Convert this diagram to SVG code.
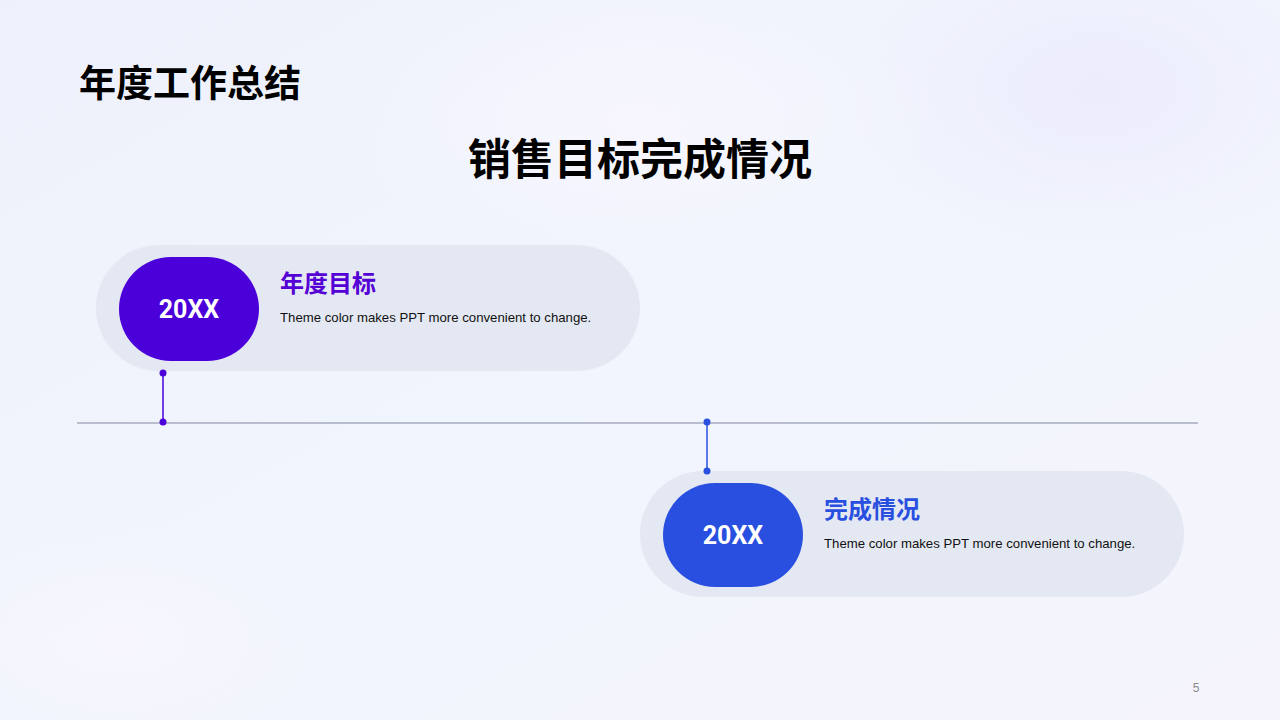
<svg xmlns="http://www.w3.org/2000/svg" width="1280" height="720" viewBox="0 0 1280 720">
  <defs>
    <linearGradient id="bg" x1="0" y1="0" x2="1" y2="1">
      <stop offset="0" stop-color="#EEF1FB"/>
      <stop offset="0.5" stop-color="#F1F5FD"/>
      <stop offset="1" stop-color="#F5F4FC"/>
    </linearGradient>
    <radialGradient id="glow1" cx="0.5" cy="0.5" r="0.5">
      <stop offset="0" stop-color="#F7F6FE" stop-opacity="1"/>
      <stop offset="1" stop-color="#F7F6FE" stop-opacity="0"/>
    </radialGradient>
    <radialGradient id="glow2" cx="0.5" cy="0.5" r="0.5">
      <stop offset="0" stop-color="#ECEBFC" stop-opacity="0.9"/>
      <stop offset="1" stop-color="#ECEBFC" stop-opacity="0"/>
    </radialGradient>
    <style>
      .cjk { font-family: "Noto Sans CJK SC", "Liberation Sans", sans-serif; font-weight: 700; }
      .year { font-family: Roboto, "Liberation Sans", sans-serif; font-weight: 700; font-size: 25px; fill: #FFFFFF; text-anchor: middle; }
      .desc { font-family: "Liberation Sans", Arial, sans-serif; font-size: 13.2px; fill: #111111; }
      .card { fill: #E3E7F1; opacity: 0.95; }
      .axis { stroke: #B9BECF; stroke-width: 2; fill: none; }
    </style>
  </defs>

  <rect width="1280" height="720" fill="url(#bg)"/>
  <ellipse cx="640" cy="120" rx="300" ry="160" fill="url(#glow1)"/>
  <ellipse cx="1100" cy="90" rx="260" ry="160" fill="url(#glow2)"/>
  <ellipse cx="120" cy="640" rx="220" ry="120" fill="url(#glow1)"/>

  <text class="cjk" x="79" y="97" font-size="37" fill="#000000">年度工作总结</text>
  <text class="cjk" x="640" y="175" font-size="43" fill="#000000" text-anchor="middle">销售目标完成情况</text>

  <g id="node1">
    <rect class="card" x="96" y="245" width="544" height="126" rx="63"/>
    <rect x="119" y="257" width="140" height="104" rx="52" fill="#4B00D9"/>
    <text class="year" x="189" y="318">20XX</text>
    <text class="cjk" x="280" y="292" font-size="24" fill="#5500D5">年度目标</text>
    <text class="desc" x="280" y="322">Theme color makes PPT more convenient to change.</text>
  </g>

  <g id="node2">
    <rect class="card" x="640" y="471" width="544" height="126" rx="63"/>
    <rect x="663" y="483" width="140" height="104" rx="52" fill="#284FE0"/>
    <text class="year" x="733" y="544">20XX</text>
    <text class="cjk" x="824" y="518" font-size="24" fill="#284FE0">完成情况</text>
    <text class="desc" x="824" y="548">Theme color makes PPT more convenient to change.</text>
  </g>

  <g id="connectors">
    <line class="axis" x1="77" y1="423" x2="1198" y2="423"/>
    <g id="conn1" stroke="#4B00D9" fill="#4B00D9">
      <line x1="163" y1="373" x2="163" y2="422" stroke-width="1.5"/>
      <circle cx="163" cy="373" r="3.5" stroke="none"/>
      <circle cx="163" cy="422" r="3.5" stroke="none"/>
    </g>
    <g id="conn2" stroke="#284FE0" fill="#284FE0">
      <line x1="707" y1="422" x2="707" y2="471" stroke-width="1.5"/>
      <circle cx="707" cy="422" r="3.5" stroke="none"/>
      <circle cx="707" cy="471" r="3.5" stroke="none"/>
    </g>
  </g>

  <text x="1196" y="692" font-family="Liberation Sans, Arial, sans-serif" font-size="12" fill="#8A8A8A" text-anchor="middle">5</text>
</svg>
